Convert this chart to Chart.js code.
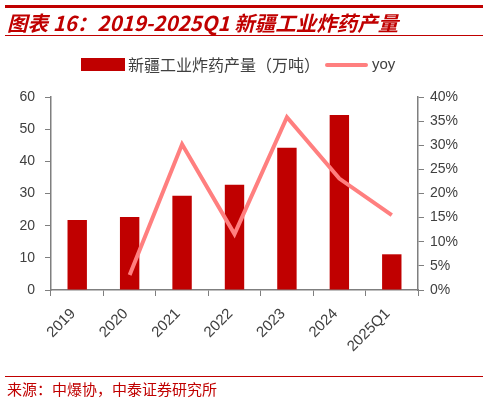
<!DOCTYPE html>
<html>
<head>
<meta charset="utf-8">
<script src="https://cdn.jsdelivr.net/npm/chart.js@4"></script>
<style>
  body { margin: 0; background: #fff; }
  #wrap { position: relative; width: 488px; height: 400px; overflow: hidden; }
  #chart { position: absolute; left: 0; top: 0; }
  .rule { position: absolute; left: 5px; width: 478px; background: #c00000; }
  #title { position: absolute; left: 7px; top: 7px; font: italic bold 20.5px "Noto Sans CJK SC", sans-serif; color: #c00000; white-space: nowrap; }
  #legend { position: absolute; left: 81px; top: 55px; height: 18px; font: 16px "Noto Sans CJK SC", sans-serif; color: #404040; white-space: nowrap; }
  #legend span { position: absolute; top: 0; line-height: 18px; }
  #source { position: absolute; left: 7px; top: 378px; font: 15px "Noto Sans CJK SC", sans-serif; color: #c00000; white-space: nowrap; }
</style>
</head>
<body>
<div id="wrap">
  <canvas id="chart" width="488" height="400"></canvas>
  <div class="rule" style="top:5px;height:3px"></div>
  <div id="title">图表 16：2019-2025Q1 新疆工业炸药产量</div>
  <div class="rule" style="top:35px;height:1px"></div>
  <div id="legend">
    <div style="position:absolute;left:0;top:3px;width:44px;height:13px;background:#c00000"></div>
    <span style="left:47px">新疆工业炸药产量（万吨）</span>
    <div style="position:absolute;left:244px;top:8px;width:43px;height:4px;border-radius:2px;background:#ff7f7f"></div>
    <span style="left:291px;font-family:'Liberation Sans',Arial,sans-serif;font-size:15px">yoy</span>
  </div>
  <div class="rule" style="top:376px;height:1px"></div>
  <div id="source">来源：中爆协，中泰证券研究所</div>
</div>
<script>
const categories = ['2019', '2020', '2021', '2022', '2023', '2024', '2025Q1'];
const output = [21.8, 22.7, 29.3, 32.7, 44.2, 54.4, 11.1];
const yoy = [null, 3.1, 30.2, 11.6, 35.8, 23.1, 15.5];
const leftTicks = [0, 10, 20, 30, 40, 50, 60];
const rightTicks = [0, 5, 10, 15, 20, 25, 30, 35, 40];

const axisColor = '#7f7f7f';
const tickFont = { family: 'Liberation Sans', size: 14 };

const ctx = document.getElementById('chart').getContext('2d');
new Chart(ctx, {
    type: 'bar',
    data: {
        labels: categories,
        datasets: [
            {
                type: 'line',
                label: 'yoy',
                data: yoy,
                yAxisID: 'y1',
                borderColor: '#ff7f7f',
                borderWidth: 4,
                pointRadius: 0,
                tension: 0,
                order: 0
            },
            {
                label: '新疆工业炸药产量（万吨）',
                data: output,
                yAxisID: 'y',
                backgroundColor: '#c00000',
                barPercentage: 0.37,
                categoryPercentage: 1,
                order: 1
            }
        ]
    },
    options: {
        responsive: false,
        animation: false,
        layout: { padding: { top: 97, left: 0, right: 0, bottom: 0 } },
        plugins: {
            legend: { display: false },
            tooltip: { enabled: false }
        },
        scales: {
            x: {
                offset: true,
                grid: { display: true, drawOnChartArea: false, offset: true, tickLength: 6, color: axisColor },
                border: { color: axisColor, width: 1.5 },
                ticks: { color: '#404040', font: { family: 'Liberation Sans', size: 15 }, minRotation: 45, maxRotation: 45, padding: 9, labelOffset: -4 },
                afterFit: function(scale) { scale.height = 110; }
            },
            y: {
                position: 'left',
                min: 0,
                max: 60,
                afterBuildTicks: function(scale) { scale.ticks = leftTicks.map(v => ({ value: v })); },
                grid: { display: true, drawOnChartArea: false, tickLength: 6, color: axisColor },
                border: { color: axisColor, width: 1.5 },
                ticks: { color: '#404040', font: tickFont, padding: 10 },
                afterFit: function(scale) { scale.width = 51; }
            },
            y1: {
                position: 'right',
                min: 0,
                max: 40,
                afterBuildTicks: function(scale) { scale.ticks = rightTicks.map(v => ({ value: v })); },
                grid: { display: true, drawOnChartArea: false, tickLength: 6, color: axisColor },
                border: { color: axisColor, width: 1.5 },
                ticks: { color: '#404040', font: tickFont, padding: 6, callback: v => v + '%' },
                afterFit: function(scale) { scale.width = 70; }
            }
        }
    }
});
</script>
</body>
</html>
